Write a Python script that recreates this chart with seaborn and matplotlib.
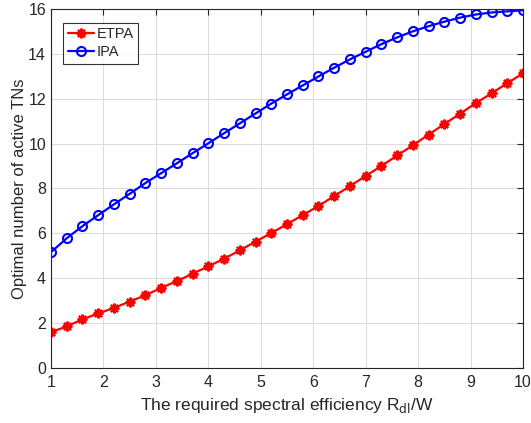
import numpy as np
import pandas as pd
import seaborn as sns
import matplotlib
matplotlib.use('Agg')
import matplotlib.pyplot as plt

# required spectral efficiency R_dl/W
rate = [1.0, 1.3, 1.6, 1.9, 2.2, 2.5, 2.8, 3.1, 3.4, 3.7, 4.0, 4.3, 4.6, 4.9, 5.2, 5.5,
        5.8, 6.1, 6.4, 6.7, 7.0, 7.3, 7.6, 7.9, 8.2, 8.5, 8.8, 9.1, 9.4, 9.7, 10.0]
etpa = [1.60, 1.85, 2.17, 2.43, 2.68, 2.96, 3.24, 3.57, 3.87, 4.20, 4.53, 4.87, 5.24, 5.63, 6.01, 6.41,
        6.81, 7.22, 7.66, 8.10, 8.56, 9.00, 9.47, 9.92, 10.40, 10.87, 11.33, 11.80, 12.24, 12.69, 13.13]
ipa = [5.16, 5.78, 6.32, 6.81, 7.29, 7.76, 8.24, 8.68, 9.12, 9.57, 10.01, 10.46, 10.90, 11.34, 11.78, 12.19,
       12.59, 12.99, 13.38, 13.75, 14.09, 14.43, 14.73, 15.00, 15.23, 15.43, 15.61, 15.75, 15.84, 15.89, 15.94]

sns.set_style('white')
plt.rcParams['font.family'] = ['Liberation Sans', 'DejaVu Sans']

fig, ax = plt.subplots(figsize=(5.31, 4.23), dpi=100)
fig.subplots_adjust(left=0.096, right=0.985, top=0.979, bottom=0.13)

sns.lineplot(x=rate, y=etpa, color='#ff0000', marker=(8, 2, 0), markersize=7,
             markeredgewidth=1.6, markeredgecolor='#ff0000', linewidth=1.6, label='ETPA', ax=ax)
sns.lineplot(x=rate, y=ipa, color='#0000ff', marker='o', markersize=6.5, markerfacecolor='none',
             markeredgewidth=1.5, markeredgecolor='#0000ff', linewidth=1.6, label='IPA', ax=ax)

ax.set_xlim(1, 10)
ax.set_ylim(0, 16)
ax.set_xticks(range(1, 11))
ax.set_yticks(range(0, 17, 2))
ax.grid(True, color='#dcdcdc', linewidth=0.8)
ax.set_axisbelow(True)
for s in ax.spines.values():
    s.set_color('#262626')
    s.set_linewidth(0.8)
ax.tick_params(direction='in', length=4, width=0.8, colors='#262626', labelsize=11.5,
               top=True, right=True, labelcolor='#262626')
ax.tick_params(axis='x', pad=5)
ax.set_xlabel(r'The required spectral efficiency R$_{\mathrm{dl}}$/W', fontsize=12.5, color='#262626')
ax.set_ylabel('Optimal number of active TNs', fontsize=12, color='#262626', labelpad=1)

leg = ax.legend(loc='upper left', bbox_to_anchor=(0.02, 0.97), fontsize=10.5, frameon=True,
                fancybox=False, edgecolor='black', handlelength=1.8, handletextpad=0.2,
                borderpad=0.3, labelspacing=0.3, borderaxespad=0.2)
leg.get_frame().set_linewidth(0.8)

fig.savefig('out.png', dpi=100)
